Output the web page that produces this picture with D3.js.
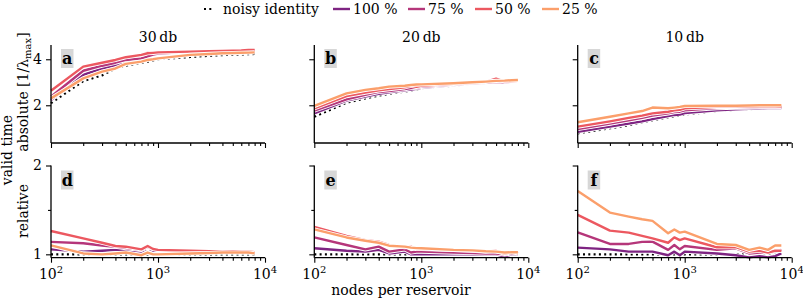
<!DOCTYPE html>
<html>
<head>
<meta charset="utf-8">
<script src="https://cdn.jsdelivr.net/npm/d3@7"></script>
<style>
  body { margin: 0; background: #fff; }
  svg text { font-family: "DejaVu Serif", serif; }
</style>
</head>
<body>
<svg width="803" height="300"></svg>
<script>
// nodes per reservoir
var nodes = [100, 200, 300, 400, 500, 700, 800, 900, 1000, 2000, 3000, 4000, 5000, 6000, 7000, 8000]
var noiseLevels = ['30\u2009db', '20\u2009db', '10\u2009db']
var panelLetters = [['a', 'b', 'c'], ['d', 'e', 'f']]
var seriesNames = ['100 %', '75 %', '50 %', '25 %']

// absolute valid time, 30 db
var abs30Identity = [2.09, 3.05, 3.3, 3.6, 3.72, 3.85, 3.9, 3.95, 4.0, 4.1, 4.15, 4.18, 4.2, 4.21, 4.22, 4.23]
var abs30p100 = [2.23, 3.32, 3.6, 3.75, 3.83, 3.97, 4.29, 4.25, 4.27, 4.33, 4.35, 4.35, 4.36, 4.37, 4.37, 4.38]
var abs30p75 = [2.37, 3.5, 3.72, 3.85, 3.97, 4.04, 4.13, 4.2, 4.25, 4.32, 4.34, 4.35, 4.36, 4.37, 4.38, 4.38]
var abs30p50 = [2.63, 3.68, 3.85, 3.97, 4.09, 4.19, 4.26, 4.28, 4.3, 4.33, 4.35, 4.36, 4.37, 4.38, 4.4, 4.4]
var abs30p25 = [2.3, 3.17, 3.46, 3.6, 3.8, 3.9, 3.97, 4.0, 4.04, 4.19, 4.23, 4.26, 4.27, 4.28, 4.29, 4.3]

// absolute valid time, 20 db
var abs20Identity = [1.5, 2.11, 2.3, 2.42, 2.5, 2.6, 2.64, 2.68, 2.73, 2.86, 2.93, 2.97, 3.0, 3.01, 3.02, 3.03]
var abs20p100 = [1.65, 2.2, 2.38, 2.5, 2.56, 2.65, 2.68, 2.72, 2.76, 2.88, 2.94, 2.98, 3.0, 3.0, 3.02, 3.03]
var abs20p75 = [1.77, 2.26, 2.45, 2.58, 2.62, 2.7, 2.75, 2.77, 2.8, 2.9, 2.95, 2.99, 3.02, 3.0, 3.03, 3.05]
var abs20p50 = [1.87, 2.4, 2.55, 2.65, 2.7, 2.78, 2.85, 2.8, 2.85, 2.93, 2.98, 3.02, 3.16, 3.03, 3.05, 3.06]
var abs20p25 = [1.97, 2.52, 2.67, 2.74, 2.81, 2.85, 2.88, 2.9, 2.91, 2.96, 3.0, 3.03, 3.06, 3.07, 3.09, 3.1]

// absolute valid time, 10 db
var abs10Identity = [0.78, 1.0, 1.13, 1.25, 1.34, 1.47, 1.52, 1.56, 1.6, 1.75, 1.8, 1.83, 1.85, 1.86, 1.87, 1.88]
var abs10p100 = [0.85, 1.07, 1.2, 1.3, 1.4, 1.53, 1.58, 1.6, 1.66, 1.78, 1.83, 1.85, 1.87, 1.88, 1.88, 1.88]
var abs10p75 = [0.97, 1.2, 1.35, 1.45, 1.55, 1.65, 1.7, 1.72, 1.78, 1.88, 1.9, 1.9, 1.92, 1.93, 1.92, 1.92]
var abs10p50 = [1.07, 1.3, 1.45, 1.55, 1.65, 1.72, 1.78, 1.8, 1.87, 1.93, 1.93, 1.94, 1.95, 1.95, 1.95, 1.94]
var abs10p25 = [1.26, 1.5, 1.65, 1.75, 1.9, 1.87, 1.9, 1.93, 1.97, 1.98, 1.98, 1.99, 2.0, 2.0, 2.0, 2.0]

// relative valid time (noisy identity = 1)
var rel30p100 = [1.056, 1.03, 1.04, 1.05, 1.05, 1.03, 1.07, 1.04, 1.04, 1.035, 1.03, 1.03, 1.03, 1.025, 1.025, 1.025]
var rel30p75 = [1.14, 1.124, 1.1, 1.086, 1.07, 1.05, 1.08, 1.06, 1.05, 1.04, 1.035, 1.03, 1.03, 1.03, 1.03, 1.025]
var rel30p50 = [1.263, 1.18, 1.13, 1.094, 1.086, 1.056, 1.094, 1.06, 1.05, 1.04, 1.035, 1.03, 1.035, 1.03, 1.03, 1.025]
var rel30p25 = [1.1, 1.01, 1.0, 1.01, 1.02, 0.99, 1.02, 1.0, 1.0, 1.01, 1.015, 1.02, 1.02, 1.02, 1.02, 1.01]

var rel20p100 = [1.068, 1.04, 1.03, 1.05, 1.01, 1.03, 1.0, 1.0, 1.0, 1.0, 1.0, 1.0, 1.0, 0.975, 1.0, 1.0]
var rel20p75 = [1.19, 1.105, 1.056, 1.087, 1.03, 1.056, 1.02, 1.03, 1.03, 1.02, 1.015, 1.01, 1.01, 1.0, 1.01, 1.01]
var rel20p50 = [1.31, 1.207, 1.16, 1.142, 1.105, 1.08, 1.087, 1.06, 1.06, 1.05, 1.04, 1.03, 1.04, 1.005, 1.03, 1.01]
var rel20p25 = [1.28, 1.19, 1.153, 1.13, 1.097, 1.087, 1.075, 1.07, 1.068, 1.05, 1.045, 1.035, 1.03, 1.02, 1.025, 1.023]

var rel10p100 = [1.075, 1.056, 1.03, 1.03, 1.03, 0.99, 1.03, 0.99, 1.03, 1.01, 0.99, 0.965, 0.98, 0.965, 0.98, 1.01]
var rel10p75 = [1.248, 1.117, 1.117, 1.14, 1.143, 1.05, 1.105, 1.056, 1.094, 1.05, 1.068, 1.01, 1.02, 1.02, 1.03, 1.05]
var rel10p50 = [1.444, 1.267, 1.244, 1.207, 1.18, 1.13, 1.19, 1.16, 1.18, 1.08, 1.08, 1.03, 1.04, 1.02, 1.04, 1.04]
var rel10p25 = [1.714, 1.47, 1.425, 1.395, 1.376, 1.237, 1.28, 1.244, 1.255, 1.117, 1.105, 1.05, 1.075, 1.05, 1.1, 1.1]

var relIdentity = 1

var colors = ['#7e2482', '#b5367a', '#ec5860', '#fb9f6b']

var absData = [
    {identity: abs30Identity, series: [abs30p100, abs30p75, abs30p50, abs30p25]},
    {identity: abs20Identity, series: [abs20p100, abs20p75, abs20p50, abs20p25]},
    {identity: abs10Identity, series: [abs10p100, abs10p75, abs10p50, abs10p25]}
]
var relData = [
    [rel30p100, rel30p75, rel30p50, rel30p25],
    [rel20p100, rel20p75, rel20p50, rel20p25],
    [rel10p100, rel10p75, rel10p50, rel10p25]
]

var svg = d3.select('svg')
var panelLeft = [51, 314.3, 577.7]
var panelWidth = 214
var rows = [
    {top: 45, bottom: 143, domain: [0.36, 4.62], major: [2, 4], minor: [], labels: [2, 4]},
    {top: 165.5, bottom: 257.7, domain: [0.962, 2.0], major: [1, 2], minor: [1.5], labels: [1, 2]}
]
var fontSize = '14px'

var minorX = []
;[100, 1000].forEach(function(b){
    for (var k = 2; k <= 9; k++) minorX.push(b * k)
})

function drawAxes(g, x, y, row, showX, showY) {
    var xMajor = d3.axisBottom(x).tickValues([100, 1000, 10000]).tickSize(5).tickFormat('')
    var xMinor = d3.axisBottom(x).tickValues(minorX).tickSize(3).tickFormat('')
    var yMajor = d3.axisLeft(y).tickValues(row.major).tickSize(5).tickFormat('')
    var yMinor = d3.axisLeft(y).tickValues(row.minor).tickSize(3).tickFormat('')

    var gx = g.append('g').attr('transform', `translate(0, ${row.bottom})`).call(xMajor)
    g.append('g').attr('transform', `translate(0, ${row.bottom})`).call(xMinor).select('.domain').remove()
    var gy = g.append('g').call(yMajor)
    g.append('g').call(yMinor).select('.domain').remove()

    g.selectAll('.domain').attr('stroke-width', 1.3)
    gx.select('.domain').attr('d', `M${x.range()[0]},0H${x.range()[1]}`)
    gy.select('.domain').attr('d', `M0,${row.top}V${row.bottom}`)
    g.selectAll('.tick line').attr('stroke-width', 1.1)

    if (showX) {
        [100, 1000, 10000].forEach(function(v){
            var t = g.append('text')
                .attr('x', x(v))
                .attr('y', row.bottom + 21)
                .attr('text-anchor', 'middle')
                .style('font-size', fontSize)
            t.append('tspan').text('10')
            t.append('tspan').attr('dy', -6).style('font-size', '10px').text(Math.log10(v))
        })
    }
    if (showY) {
        row.labels.forEach(function(v){
            g.append('text')
                .attr('x', -9)
                .attr('y', y(v))
                .attr('dy', '0.35em')
                .attr('text-anchor', 'end')
                .style('font-size', fontSize)
                .text(v)
        })
    }
}

function drawLine(g, x, y, values, color) {
    var line = d3.line()
        .x(function(d, i){ return x(nodes[i]) })
        .y(function(d){ return y(d) })
    g.append('path').datum(values)
        .attr('d', line)
        .attr('fill', 'none')
        .attr('stroke', '#fff')
        .attr('stroke-width', 4.2)
        .attr('stroke-linejoin', 'round')
    g.append('path').datum(values)
        .attr('d', line)
        .attr('fill', 'none')
        .attr('stroke', color)
        .attr('stroke-width', 2.4)
        .attr('stroke-linejoin', 'round')
}

function drawIdentity(g, x, y, values) {
    var line = d3.line()
        .x(function(d, i){ return x(nodes[i]) })
        .y(function(d){ return y(d) })
    g.append('path').datum(values)
        .attr('d', line)
        .attr('fill', 'none')
        .attr('stroke', '#000')
        .attr('stroke-width', 2.2)
        .attr('stroke-dasharray', '2,3.3')
}

function drawLetter(g, x0, yTop, letter) {
    g.append('rect')
        .attr('x', x0 + 10)
        .attr('y', yTop + 4)
        .attr('width', 12.5)
        .attr('height', 19)
        .attr('fill', '#d7d7d7')
    g.append('text')
        .attr('x', x0 + 16.3)
        .attr('y', yTop + 19)
        .attr('text-anchor', 'middle')
        .style('font-size', '16px')
        .style('font-weight', 'bold')
        .text(letter)
}

for (var c = 0; c < 3; c++) {
    var x = d3.scaleLog().domain([100, 10000]).range([panelLeft[c], panelLeft[c] + panelWidth])

    // absolute row
    var row = rows[0]
    var y = d3.scaleLinear().domain(row.domain).range([row.bottom, row.top])
    var g = svg.append('g')
    drawLetter(g, panelLeft[c], row.top, panelLetters[0][c])
    drawIdentity(g, x, y, absData[c].identity)
    absData[c].series.forEach(function(s, i){ drawLine(g, x, y, s, colors[i]) })
    g.append('g').attr('transform', `translate(${panelLeft[c]}, 0)`).call(function(ga){
        drawAxes(ga, d3.scaleLog().domain([100, 10000]).range([0, panelWidth]), y, row, false, c === 0)
    })

    // relative row
    row = rows[1]
    y = d3.scaleLinear().domain(row.domain).range([row.bottom, row.top])
    g = svg.append('g')
    drawLetter(g, panelLeft[c], row.top + 1, panelLetters[1][c])
    drawIdentity(g, x, y, nodes.map(function(){ return relIdentity }))
    relData[c].forEach(function(s, i){ drawLine(g, x, y, s, colors[i]) })
    g.append('g').attr('transform', `translate(${panelLeft[c]}, 0)`).call(function(ga){
        drawAxes(ga, d3.scaleLog().domain([100, 10000]).range([0, panelWidth]), y, row, true, c === 0)
    })

    // column title
    svg.append('text')
        .attr('x', panelLeft[c] + panelWidth / 2)
        .attr('y', 42)
        .attr('text-anchor', 'middle')
        .style('font-size', fontSize)
        .text(noiseLevels[c])
}

// axis labels
svg.append('text')
    .attr('transform', 'translate(12, 150) rotate(-90)')
    .attr('text-anchor', 'middle')
    .style('font-size', fontSize)
    .text('valid time')

var absLabel = svg.append('text')
    .attr('transform', 'translate(28, 92) rotate(-90)')
    .attr('text-anchor', 'middle')
    .style('font-size', fontSize)
absLabel.append('tspan').text('absolute [1/\u03bb')
absLabel.append('tspan').attr('dy', 3).style('font-size', '10px').text('max')
absLabel.append('tspan').attr('dy', -3).text(']')

svg.append('text')
    .attr('transform', 'translate(28, 211) rotate(-90)')
    .attr('text-anchor', 'middle')
    .style('font-size', fontSize)
    .text('relative')

svg.append('text')
    .attr('x', 401)
    .attr('y', 295)
    .attr('text-anchor', 'middle')
    .style('font-size', fontSize)
    .text('nodes per reservoir')

// legend
var legend = svg.append('g')
legend.append('line')
    .attr('x1', 204).attr('x2', 214).attr('y1', 9).attr('y2', 9)
    .attr('stroke', '#000').attr('stroke-width', 2.2).attr('stroke-dasharray', '2,3.3')
legend.append('text').attr('x', 223).attr('y', 14).style('font-size', fontSize).text('noisy identity')
var legendX = [333, 408, 475, 542]
seriesNames.forEach(function(name, i){
    legend.append('line')
        .attr('x1', legendX[i]).attr('x2', legendX[i] + 17).attr('y1', 9).attr('y2', 9)
        .attr('stroke', colors[i]).attr('stroke-width', 2.4)
    legend.append('text').attr('x', legendX[i] + 20).attr('y', 14).style('font-size', fontSize).text(name)
})
</script>
</body>
</html>
